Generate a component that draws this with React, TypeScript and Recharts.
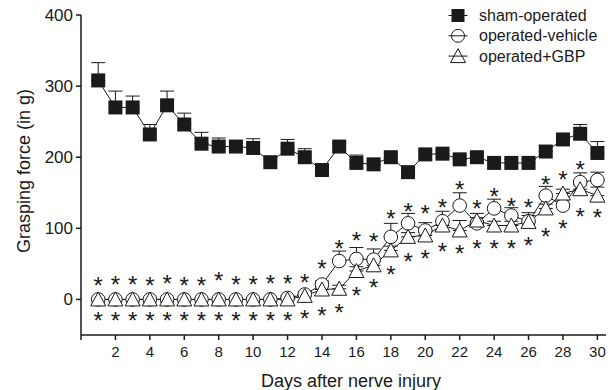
import React from "react";
import { ComposedChart, Line, XAxis, YAxis, ErrorBar, Label } from "recharts";

const FONT = "'Liberation Sans', Arial, sans-serif";
const INK = "#1a1a1a";

const days = [1, 2, 3, 4, 5, 6, 7, 8, 9, 10, 11, 12, 13, 14, 15, 16, 17, 18, 19, 20, 21, 22, 23, 24, 25, 26, 27, 28, 29, 30];

// sham-operated (mean, upper SEM)
const sham = [308, 270, 270, 232, 273, 246, 219, 215, 215, 213, 193, 212, 200, 182, 215, 192, 190, 200, 179, 204, 205, 197, 200, 192, 192, 192, 208, 225, 233, 206];
const shamErr = [25, 23, 16, 14, 20, 16, 16, 12, 8, 13, 5, 13, 12, 5, 5, 11, 5, 5, 6, 5, 5, 6, 5, 5, 5, 5, 8, 8, 13, 16];

// operated-vehicle
const vehicle = [0, 0, 0, 0, 0, 0, 0, 0, 0, 0, 0, 2, 7, 21, 54, 57, 56, 88, 107, 97, 110, 132, 107, 128, 118, 110, 146, 132, 165, 168];
const vehicleErr = [0, 0, 0, 0, 0, 0, 0, 0, 0, 0, 0, 3, 4, 5, 14, 16, 15, 19, 14, 11, 14, 18, 8, 13, 11, 8, 13, 8, 13, 11];

// operated+GBP
const gbp = [0, 0, 0, 0, 0, 0, 0, 0, 0, 0, 0, 0, 5, 14, 15, 40, 48, 69, 88, 90, 104, 97, 111, 104, 104, 109, 128, 149, 155, 146];
const gbpErr = [0, 0, 0, 0, 0, 0, 0, 0, 0, 0, 0, 0, 3, 4, 5, 6, 6, 6, 6, 6, 6, 14, 10, 6, 6, 13, 6, 6, 6, 12];

// significance asterisks (vertical position in g)
const starHi = [26, 28, 28, 27, 30, 27, 26, 33, 28, 28, 29, 29, 31, 50, 78, 90, 88, 121, 131, 128, 137, 162, 135, 152, 138, 136, 168, 176, 190, null];
const starLo = [-23, -23, -23, -23, -23, -23, -23, -23, -23, -23, -23, -23, -20, -16, -12, 13, 24, 42, 60, 64, 74, 72, 78, 78, 78, 83, 96, 107, 124, 122];

const xTicks = [0, 2, 4, 6, 8, 10, 12, 14, 16, 18, 20, 22, 24, 26, 28, 30];
const yTicks = [0, 100, 200, 300, 400];

const data = days.map((day, i) => ({
  day,
  sham: sham[i],
  shamErr: [0, shamErr[i]],
  vehicle: vehicle[i],
  vehicleErr: [0, vehicleErr[i]],
  gbp: gbp[i],
  gbpErr: [0, gbpErr[i]],
  starHi: starHi[i],
  starLo: starLo[i],
}));

const SquareDot = (p: any) => {
  if (p.cx == null || p.cy == null) return <g key={p.key} />;
  return <rect key={p.key} x={p.cx - 7} y={p.cy - 7} width={14} height={14} fill={INK} />;
};

const CircleDot = (p: any) => {
  if (p.cx == null || p.cy == null) return <g key={p.key} />;
  return <circle key={p.key} cx={p.cx} cy={p.cy} r={6.8} fill="#fff" stroke={INK} strokeWidth={1} />;
};

const TriDot = (p: any) => {
  if (p.cx == null || p.cy == null) return <g key={p.key} />;
  const { cx, cy } = p;
  return (
    <polygon
      key={p.key}
      points={`${cx},${cy - 7.5} ${cx - 7.5},${cy + 6.5} ${cx + 7.5},${cy + 6.5}`}
      fill="#fff"
      stroke={INK}
      strokeWidth={1}
    />
  );
};

const StarDot = (p: any) => {
  if (p.cx == null || p.cy == null || p.value == null) return <g key={p.key} />;
  return (
    <text key={p.key} x={p.cx} y={p.cy + 13.5} textAnchor="middle" fontSize={24} fontFamily={FONT} fill={INK}>
      *
    </text>
  );
};

const legendRows = [
  { name: "sham-operated", kind: "square" },
  { name: "operated-vehicle", kind: "circle" },
  { name: "operated+GBP", kind: "triangle" },
];

// drawn over the chart so it takes no room from the plot
const ChartLegend = () => (
  <svg width={165} height={64} style={{ position: "absolute", left: 446, top: 2 }}>
    {legendRows.map((r, i) => {
      const cy = 13.5 + i * 20.3;
      const cx = 12;
      return (
        <g key={r.name}>
          <line x1={cx - 9.5} x2={cx + 9.5} y1={cy} y2={cy} stroke={INK} strokeWidth={1} />
          {r.kind === "square" && <rect x={cx - 6.5} y={cy - 6.5} width={13} height={13} fill={INK} />}
          {r.kind === "circle" && <circle cx={cx} cy={cy} r={6.5} fill="none" stroke={INK} />}
          {r.kind === "triangle" && (
            <polygon
              points={`${cx},${cy - 7.5} ${cx - 7.5},${cy + 6.5} ${cx + 7.5},${cy + 6.5}`}
              fill="none"
              stroke={INK}
            />
          )}
          <text x={33} y={cy} dominantBaseline="central" fontSize={16} fontFamily={FONT} fill={INK}>
            {r.name}
          </text>
        </g>
      );
    })}
  </svg>
);

export default function App() {
  return (
    <div style={{ position: "absolute", left: 0, top: 0, width: 611, height: 390, background: "#fff" }}>
      <ComposedChart
        width={611}
        height={390}
        data={data}
        margin={{ top: 15, right: 5, bottom: 0, left: 0 }}
      >
        <XAxis
          dataKey="day"
          type="number"
          domain={[0, 30.5]}
          ticks={xTicks}
          tickFormatter={(v: number) => (v === 0 ? "" : String(v))}
          allowDataOverflow
          height={55}
          tickSize={5}
          tickMargin={6}
          axisLine={{ stroke: INK, strokeWidth: 1.5 }}
          tickLine={{ stroke: INK, strokeWidth: 1.5 }}
          tick={{ fontSize: 15, fontFamily: FONT, fill: INK }}
        >
          <Label
            content={() => (
              <text x={351} y={387} textAnchor="middle" fontSize={18} fontFamily={FONT} fill={INK}>
                Days after nerve injury
              </text>
            )}
          />
        </XAxis>
        <YAxis
          type="number"
          domain={[-50, 400]}
          ticks={yTicks}
          allowDataOverflow
          width={81}
          tickSize={5}
          tickMargin={3}
          axisLine={{ stroke: INK, strokeWidth: 1.5 }}
          tickLine={{ stroke: INK, strokeWidth: 1.5 }}
          tick={{ fontSize: 17, fontFamily: FONT, fill: INK }}
        >
          <Label
            content={() => (
              <text
                x={24}
                y={171}
                transform="rotate(-90 24 171)"
                textAnchor="middle"
                dominantBaseline="central"
                fontSize={18}
                fontFamily={FONT}
                fill={INK}
              >
                Grasping force (in g)
              </text>
            )}
          />
        </YAxis>
        <Line
          dataKey="sham"
          name="sham-operated"
          stroke={INK}
          strokeWidth={1}
          dot={SquareDot}
          activeDot={false}
          isAnimationActive={false}
        >
          <ErrorBar dataKey="shamErr" width={7} stroke={INK} strokeWidth={1} direction="y" />
        </Line>
        <Line
          dataKey="vehicle"
          name="operated-vehicle"
          stroke={INK}
          strokeWidth={1}
          dot={CircleDot}
          activeDot={false}
          isAnimationActive={false}
        >
          <ErrorBar dataKey="vehicleErr" width={7} stroke={INK} strokeWidth={1} direction="y" />
        </Line>
        <Line
          dataKey="gbp"
          name="operated+GBP"
          stroke={INK}
          strokeWidth={1}
          dot={TriDot}
          activeDot={false}
          isAnimationActive={false}
        >
          <ErrorBar dataKey="gbpErr" width={7} stroke={INK} strokeWidth={1} direction="y" />
        </Line>
        <Line
          dataKey="starHi"
          stroke="none"
          dot={StarDot}
          activeDot={false}
          legendType="none"
          isAnimationActive={false}
        />
        <Line
          dataKey="starLo"
          stroke="none"
          dot={StarDot}
          activeDot={false}
          legendType="none"
          isAnimationActive={false}
        />
      </ComposedChart>
      <ChartLegend />
    </div>
  );
}
